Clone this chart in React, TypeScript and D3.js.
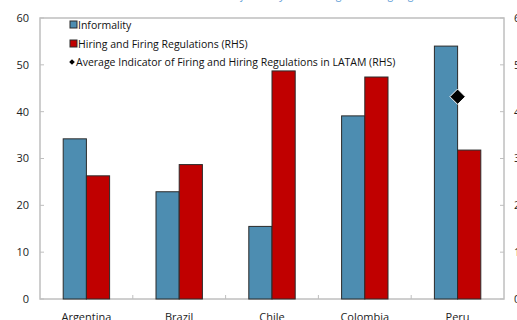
import React from "react";
import * as d3 from "d3";

const countries = ["Argentina", "Brazil", "Chile", "Colombia", "Peru"];
const informality = [34.2, 22.9, 15.5, 39.1, 54.0];
const hiringFiring = [2.63, 2.87, 4.87, 4.74, 3.18];
const latamAverage = 4.32;
const averageCountry = "Peru";
const leftTicks = [0, 10, 20, 30, 40, 50, 60];
const rightTicks = [0, 1, 2, 3, 4, 5, 6];

const W = 517;
const H = 320;
const margin = { left: 40, right: 13, top: 18, bottom: 21 };
const font = "'Open Sans', 'Noto Sans', sans-serif";

export default function App() {
  const x = d3
    .scaleBand<string>()
    .domain(countries)
    .range([margin.left, W - margin.right]);
  const yL = d3.scaleLinear().domain([0, 60]).range([H - margin.bottom, margin.top]);
  const yR = d3.scaleLinear().domain([0, 6]).range([H - margin.bottom, margin.top]);
  const bw = x.bandwidth() / 4;
  const x0 = margin.left;
  const x1 = W - margin.right;
  const y0 = H - margin.bottom;
  const y1 = margin.top;
  const axisColor = "#bfbfbf";
  const diamond = d3.symbol().type(d3.symbolDiamond2).size(150)();

  return (
    <svg
      width={W}
      height={H}
      style={{ position: "absolute", left: 0, top: 0 }}
      fontFamily={font}
    >
      <text x={232} y={-1} fontSize={11} fill="#5b9bd5" fontStyle="italic">
        Informality, and Hiring and Firing Regulations in Latin America
      </text>
      {/* frame */}
      <rect x={x0} y={y1} width={x1 - x0} height={y0 - y1} fill="none" stroke={axisColor} strokeWidth={1.5} />
      {leftTicks.map((t) => (
        <g key={"l" + t}>
          <line x1={x0} x2={x0 + 4} y1={yL(t)} y2={yL(t)} stroke={axisColor} />
          <text x={x0 - 11} y={yL(t)} dy="0.35em" textAnchor="end" fontSize={11} fill="#222">
            {t}
          </text>
        </g>
      ))}
      {rightTicks.map((t) => (
        <g key={"r" + t}>
          <line x1={x1 - 4} x2={x1} y1={yR(t)} y2={yR(t)} stroke={axisColor} />
          <text x={x1 + 10} y={yR(t)} dy="0.35em" textAnchor="start" fontSize={11} fill="#222">
            {t}
          </text>
        </g>
      ))}
      {countries.slice(1).map((c) => (
        <line key={"t" + c} x1={x(c)!} x2={x(c)!} y1={y0} y2={y0 - 4} stroke={axisColor} />
      ))}
      {countries.map((c, i) => {
        const cx = x(c)! + x.bandwidth() / 2;
        return (
          <g key={c}>
            <rect
              x={cx - bw}
              y={yL(informality[i])}
              width={bw}
              height={y0 - yL(informality[i])}
              fill="#4d8db1"
              stroke="#2b2b2b"
              strokeWidth={1}
            />
            <rect
              x={cx}
              y={yR(hiringFiring[i])}
              width={bw}
              height={y0 - yR(hiringFiring[i])}
              fill="#c00000"
              stroke="#2b2b2b"
              strokeWidth={1}
            />
            <text x={cx} y={321} textAnchor="middle" fontSize={11} fill="#222">
              {c}
            </text>
          </g>
        );
      })}
      <path
        d={diamond!}
        transform={`translate(${x(averageCountry)! + x.bandwidth() / 2},${yR(latamAverage)})`}
        fill="#000"
        stroke="#fff"
        strokeWidth={1}
      />
      {/* legend */}
      <g fontSize={10.5} fill="#111">
        <rect x={70} y={21} width={7} height={7} fill="#4d8db1" stroke="#2b2b2b" />
        <text x={78} y={25} dy="0.35em">Informality</text>
        <rect x={70} y={40} width={7} height={7} fill="#c00000" stroke="#2b2b2b" />
        <text x={78} y={44} dy="0.35em">Hiring and Firing Regulations (RHS)</text>
        <path d={d3.symbol().type(d3.symbolDiamond2).size(20)()!} transform="translate(72,62)" fill="#000" />
        <text x={76} y={62} dy="0.35em">Average Indicator of Firing and Hiring Regulations in LATAM (RHS)</text>
      </g>
    </svg>
  );
}
